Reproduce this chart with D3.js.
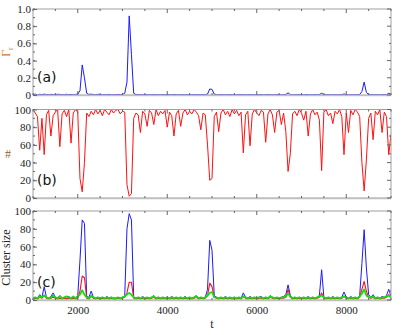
<!DOCTYPE html>
<html><head><meta charset="utf-8">
<script src="https://cdn.jsdelivr.net/npm/d3@7"></script>
<style>body{margin:0;background:#fff}svg{display:block}</style>
</head><body>
<svg id="c" width="407" height="335"></svg>
<script>
// sample times (every 50 time units from 1000 to 9000)
const tStart = 1000, tStep = 50;
const gammaR = [
0.005,0.01,0.003,0.008,0.004,0.01,0.006,0.003,0.008,0.005,
0.004,0.009,0.006,0.003,0.005,0.008,0.004,0.006,0.003,0.007,
0.01,0.05,0.35,0.2,0.02,0.006,0.01,0.005,0.004,0.008,
0.005,0.003,0.006,0.004,0.007,0.003,0.005,0.004,0.006,0.005,
0.006,0.02,0.15,0.92,0.47,0.02,0.005,0.004,0.006,0.003,
0.005,0.004,0.003,0.006,0.004,0.005,0.003,0.004,0.006,0.003,
0.004,0.005,0.003,0.006,0.004,0.003,0.005,0.004,0.003,0.005,
0.004,0.003,0.005,0.004,0.006,0.003,0.005,0.004,0.01,0.07,
0.065,0.01,0.004,0.003,0.005,0.004,0.003,0.004,0.005,0.003,
0.004,0.003,0.005,0.004,0.006,0.003,0.004,0.005,0.003,0.004,
0.003,0.004,0.005,0.003,0.004,0.006,0.003,0.004,0.003,0.005,
0.004,0.003,0.005,0.006,0.025,0.005,0.003,0.004,0.003,0.005,
0.004,0.003,0.005,0.004,0.003,0.004,0.005,0.003,0.006,0.02,
0.004,0.003,0.005,0.004,0.003,0.004,0.003,0.005,0.004,0.012,
0.004,0.003,0.005,0.003,0.004,0.005,0.006,0.04,0.15,0.03,
0.005,0.004,0.003,0.005,0.004,0.003,0.004,0.006,0.004,0.02,
0.005];
const hits = [
100,96,92,54,90,49,94,99,70,93,
97,100,58,95,99,92,100,62,96,100,
97,22,7,40,96,92,98,94,100,95,
99,93,100,97,94,100,96,99,100,95,
98,97,15,2,5,90,96,94,74,98,
95,81,99,96,83,100,93,98,95,99,
80,97,93,70,95,99,81,96,100,94,
98,95,100,97,93,77,96,94,60,20,
22,92,97,75,96,100,94,98,92,100,
95,99,93,97,51,94,98,59,95,100,
96,93,99,97,63,95,100,94,74,97,
99,83,96,75,30,50,95,98,93,100,
96,88,98,70,95,100,94,97,88,31,
97,100,93,96,84,98,95,100,92,49,
96,74,99,94,100,97,92,40,8,43,
90,96,66,98,94,100,74,97,92,49,
72];
const clusterBlue = [
2,3,2,6,3,15,3,2,4,8,
3,2,5,2,3,2,4,2,3,2,
5,45,90,86,4,3,10,3,2,3,
2,3,2,4,2,3,2,2,3,2,
3,5,80,97,90,3,2,3,2,4,
2,3,2,3,5,2,3,2,3,2,
3,2,4,2,3,2,3,2,4,2,
3,2,3,5,2,3,2,3,12,67,
56,5,3,2,3,2,4,2,3,2,
3,2,3,2,8,3,2,4,2,3,
2,3,4,2,3,2,5,3,2,3,
2,3,4,6,17,5,2,3,2,3,
2,3,2,4,2,3,2,3,5,34,
3,2,3,2,4,2,3,2,3,9,
3,2,4,2,3,2,5,41,79,36,
6,3,6,2,3,2,4,3,5,12,
4];
const clusterRed = [
1,2,1,3,2,5,2,1,2,3,
2,1,2,1,2,1,2,1,2,1,
2,10,27,25,2,1,4,2,1,2,
1,2,1,2,1,2,1,1,2,1,
2,3,8,20,20,2,1,2,1,2,
1,2,1,2,3,1,2,1,2,1,
2,1,2,1,2,1,2,1,2,1,
2,1,2,3,1,2,1,2,5,19,
15,3,2,1,2,1,2,1,2,1,
2,1,2,1,4,2,1,2,1,2,
1,2,2,1,2,1,3,2,1,2,
1,2,2,3,12,3,1,2,1,2,
1,2,1,2,1,2,1,2,3,8,
2,1,2,1,2,1,2,1,2,4,
2,1,2,1,2,1,3,12,21,10,
3,2,3,1,2,1,2,2,3,6,
2];
const clusterGreen = [
2,3,2,4,3,5,3,2,3,5,
3,2,4,2,3,4,3,2,4,2,
4,6,11,6,3,2,5,3,2,3,
2,3,2,3,2,3,2,2,3,2,
3,4,6,8,6,3,2,3,2,3,
2,3,2,3,4,2,3,2,3,2,
3,2,3,2,3,2,3,2,3,2,
3,2,3,4,2,3,2,3,5,8,
9,3,3,2,3,2,3,2,3,2,
3,2,3,2,4,3,2,3,2,3,
2,3,3,2,3,2,4,3,2,3,
2,3,3,4,7,4,2,3,2,3,
2,3,2,3,2,3,2,3,4,5,
3,2,3,2,3,2,3,2,3,4,
3,2,3,2,3,2,4,7,12,5,
3,3,4,2,3,2,3,3,4,5,
3];
const xTickLabels = [2000, 4000, 6000, 8000];
const yTicksA = [0, 0.2, 0.4, 0.6, 0.8, 1.0];
const yTicksB = [0, 20, 40, 60, 80, 100];
const yTicksC = [0, 20, 40, 60, 80, 100];

const svg = d3.select("#c");
const L = 33, R = 391;
const x = d3.scaleLinear().domain([1000, 9000]).range([L, R]);
const tOf = i => tStart + i * tStep;

const panels = [
  {top: 9, bot: 95, dom: [0, 1], ticks: yTicksA, minor: d3.range(0, 1.001, 0.1), fmt: v => v === 0 ? "0" : d3.format(".1f")(v),
   label: "(a)", labY: 82, series: [{d: gammaR, c: "#1a1aff", w: 1}], ylab: "\u0393r", ylabX: 10, ylabColor: "#c8803a"},
  {top: 109.5, bot: 198, dom: [0, 100], ticks: yTicksB, minor: d3.range(0, 101, 10), fmt: d3.format("d"),
   label: "(b)", labY: 185, series: [{d: hits, c: "#ff1010", w: 1}], ylab: "#", ylabX: 8, ylabColor: "#8a6a3a"},
  {top: 211, bot: 300, dom: [0, 100], ticks: yTicksC, minor: d3.range(0, 101, 10), fmt: d3.format("d"),
   label: "(c)", labY: 287, series: [{d: clusterBlue, c: "#1a1aff", w: 1}, {d: clusterRed, c: "#ff1010", w: 1.1}, {d: clusterGreen, c: "#10e010", w: 1.8}],
   ylab: "Cluster size", ylabX: 10, ylabColor: "#222"}
];

const serif = "'Liberation Serif','DejaVu Serif',serif";
const frameC = "#a0a0a0";

panels.forEach((p, pi) => {
  const y = d3.scaleLinear().domain(p.dom).range([p.bot, p.top]);
  const g = svg.append("g");
  const clipId = "clip" + pi;
  svg.append("clipPath").attr("id", clipId).append("rect")
    .attr("x", L).attr("y", p.top - 2).attr("width", R - L).attr("height", p.bot - p.top + 2);
  // lines
  const line = d3.line().x((d, i) => x(tOf(i))).y(d => y(d));
  p.series.forEach(s => {
    g.append("path").datum(s.d).attr("d", line).attr("fill", "none")
      .attr("stroke", s.c).attr("stroke-width", s.w).attr("stroke-linejoin", "round")
      .attr("clip-path", `url(#${clipId})`);
  });
  // frame
  g.append("rect").attr("x", L).attr("y", p.top).attr("width", R - L).attr("height", p.bot - p.top)
    .attr("fill", "none").attr("stroke", frameC).attr("stroke-width", 1);
  g.append("line").attr("x1", L).attr("x2", R).attr("y1", p.bot + 0.5).attr("y2", p.bot + 0.5)
    .attr("stroke", "#c0c0c0").attr("stroke-width", 1.5);
  // y axis left (ticks inward)
  const yAxL = d3.axisLeft(y).tickValues(p.ticks).tickFormat(p.fmt).tickSizeInner(-4).tickSizeOuter(0).tickPadding(6);
  const ga = g.append("g").attr("transform", `translate(${L},0)`).call(yAxL);
  ga.select(".domain").remove();
  ga.selectAll("line").attr("stroke", "#666");
  ga.selectAll("text").attr("font-family", serif).attr("font-size", 11).attr("fill", "#222").attr("x", -2);
  // minor y ticks left and right
  p.minor.forEach(v => {
    g.append("line").attr("x1", L).attr("x2", L + 2).attr("y1", y(v)).attr("y2", y(v)).attr("stroke", "#666");
    const len = p.ticks.includes(v) ? 4 : 2;
    g.append("line").attr("x1", R).attr("x2", R - len).attr("y1", y(v)).attr("y2", y(v)).attr("stroke", "#666");
  });
  // x ticks top and bottom
  d3.range(1000, 9001, 500).forEach(t => {
    const len = t % 2000 === 0 ? 4 : 2;
    g.append("line").attr("x1", x(t)).attr("x2", x(t)).attr("y1", p.top).attr("y2", p.top + len).attr("stroke", "#666");
    g.append("line").attr("x1", x(t)).attr("x2", x(t)).attr("y1", p.bot).attr("y2", p.bot - len).attr("stroke", "#666");
  });
  // panel label
  g.append("text").attr("x", 37).attr("y", p.labY).text(p.label)
    .attr("font-family", "'DejaVu Sans',sans-serif").attr("font-size", 14).attr("fill", "#111");
  // y label
  const cy = (p.top + p.bot) / 2;
  if (pi === 1) {
    g.append("text").attr("x", p.ylabX).attr("y", cy + 4).attr("text-anchor", "middle")
      .attr("font-family", serif).attr("font-size", 12).attr("fill", p.ylabColor).text(p.ylab);
  } else if (pi === 0) {
    const tx = g.append("text").attr("transform", `translate(${p.ylabX},${cy}) rotate(-90)`).attr("text-anchor", "middle")
      .attr("font-family", serif).attr("font-size", 12).attr("fill", p.ylabColor);
    tx.append("tspan").text("\u0393");
    tx.append("tspan").attr("font-size", 8).attr("dy", 3).text("r");
  } else {
    g.append("text").attr("transform", `translate(${p.ylabX},${cy + 2}) rotate(-90)`).attr("text-anchor", "middle")
      .attr("font-family", serif).attr("font-size", 12).attr("fill", p.ylabColor).text(p.ylab);
  }
  if (pi === 2) {
    const xAx = d3.axisBottom(x).tickValues(xTickLabels).tickFormat(d3.format("d")).tickSize(0).tickPadding(6);
    const gx = g.append("g").attr("transform", `translate(0,${p.bot})`).call(xAx);
    gx.select(".domain").remove();
    gx.selectAll("text").attr("font-family", serif).attr("font-size", 11).attr("fill", "#222");
    g.append("text").attr("x", x(5000)).attr("y", 328).attr("text-anchor", "middle")
      .attr("font-family", serif).attr("font-size", 12).attr("fill", "#223").text("t");
  }
});
</script>
</body></html>
